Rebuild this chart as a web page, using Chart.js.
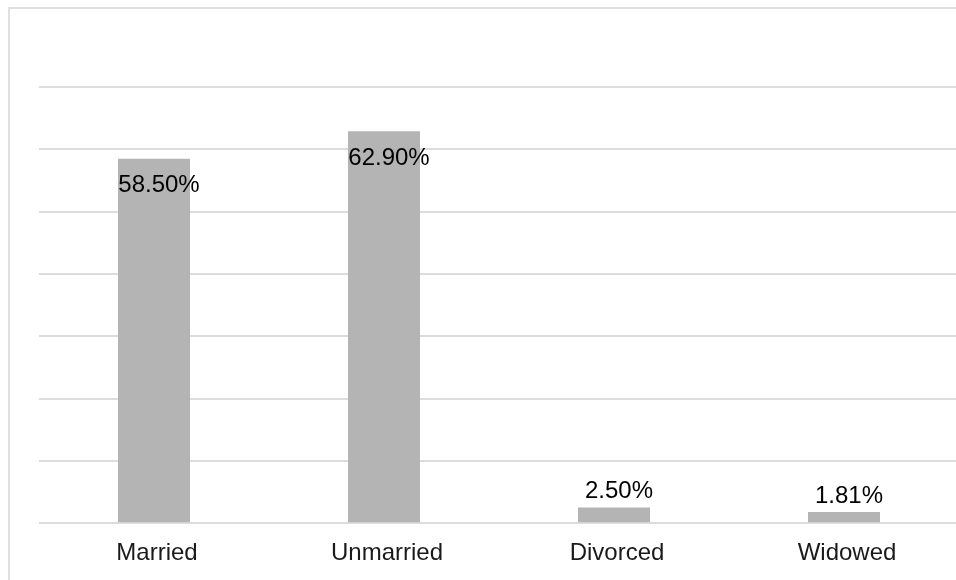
<!DOCTYPE html>
<html>
<head>
<meta charset="utf-8">
<script src="https://cdn.jsdelivr.net/npm/chart.js@4.4.1/dist/chart.umd.min.js"></script>
<style>
  html, body { margin: 0; padding: 0; background: #fff; overflow: hidden; }
  #wrap { position: relative; width: 1000px; height: 580px; overflow: hidden; }
  #frame { position: absolute; left: 8px; top: 7px; width: 1100px; height: 700px;
           border: 2px solid #e0e0e0; box-sizing: border-box; }
  #chart { position: absolute; left: 0; top: 0; }
</style>
</head>
<body>
<div id="wrap">
  <div id="frame"></div>
  <canvas id="chart" width="1000" height="600"></canvas>
</div>
<script>
// data
const categories = ["Married", "Unmarried", "Divorced", "Widowed"];
const shares = [58.5, 62.9, 2.5, 1.81];
const shareLabels = ["58.50%", "62.90%", "2.50%", "1.81%"];
const yMax = 70;
const yStep = 10;

// labels on the bars: inside the top for tall bars, above for short ones
const barLabels = {
  id: "barLabels",
  afterDatasetsDraw(chart) {
    const ctx = chart.ctx;
    const meta = chart.getDatasetMeta(0);
    ctx.save();
    ctx.font = "24px 'Liberation Sans', Arial, Helvetica, sans-serif";
    ctx.fillStyle = "#000";
    ctx.textAlign = "center";
    ctx.textBaseline = "middle";
    meta.data.forEach(function (bar, i) {
      const h = bar.base - bar.y;
      const y = h > 40 ? bar.y + 27 : bar.y - 16;
      ctx.fillText(shareLabels[i], bar.x + 5, y);
    });
    ctx.restore();
  }
};

const ctx = document.getElementById("chart").getContext("2d");
new Chart(ctx, {
  type: "bar",
  data: {
    labels: categories,
    datasets: [{
      data: shares,
      backgroundColor: "#b4b4b4",
      barPercentage: 1,
      categoryPercentage: 0.313
    }]
  },
  options: {
    responsive: false,
    animation: false,
    layout: { padding: { left: 39, right: 41, top: 87, bottom: 16 } },
    plugins: { legend: { display: false }, tooltip: { enabled: false } },
    scales: {
      x: {
        grid: { display: false, drawTicks: false },
        border: { display: false },
        ticks: {
          color: "#1a1a1a",
          padding: 16,
          labelOffset: 3,
          font: { family: "'Liberation Sans', Arial, Helvetica, sans-serif", size: 24 }
        }
      },
      y: {
        min: 0,
        max: yMax,
        ticks: { display: false, stepSize: yStep },
        grid: { color: "#dcdcdc", lineWidth: 2, drawTicks: false },
        border: { display: false }
      }
    }
  },
  plugins: [barLabels]
});
</script>
</body>
</html>
